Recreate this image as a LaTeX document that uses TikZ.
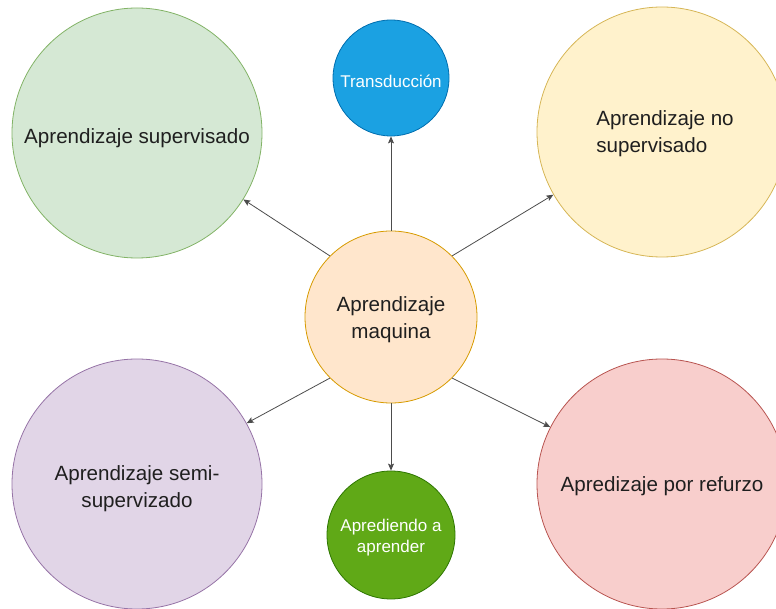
\documentclass[tikz,border=0pt]{standalone}
\usepackage{fontspec}
\setmainfont{Liberation Sans}
\usetikzlibrary{arrows.meta}

\definecolor{supfill}{HTML}{D5E8D4}\definecolor{supline}{HTML}{82B366}
\definecolor{transfill}{HTML}{1BA1E2}\definecolor{transline}{HTML}{006EAF}
\definecolor{nosupfill}{HTML}{FFF2CC}\definecolor{nosupline}{HTML}{D6B656}
\definecolor{mainfill}{HTML}{FFE6CC}\definecolor{mainline}{HTML}{D79B00}
\definecolor{semifill}{HTML}{E1D5E7}\definecolor{semiline}{HTML}{9673A6}
\definecolor{learnfill}{HTML}{60A917}\definecolor{learnline}{HTML}{2D7600}
\definecolor{reinffill}{HTML}{F8CECC}\definecolor{reinfline}{HTML}{B85450}

\begin{document}
\begin{tikzpicture}[x=1pt,y=-1pt,
    bubble/.style={circle, draw, line width=0.8pt, inner sep=0pt},
    caption/.style={align=center, inner sep=0pt, text=black!88, font=\fontsize{20.6}{27}\selectfont},
    smallcaption/.style={caption, text=white, font=\fontsize{17}{21}\selectfont},
    link/.style={-{Stealth[length=7pt,width=6pt,inset=1.5pt]}, draw=black!70, line width=0.8pt}]
    % page
    \useasboundingbox (0,0) rectangle (776,609);

    % Outer bubbles
    \node[bubble, minimum size=250pt, fill=supfill, draw=supline] (sup) at (137,133) {};
    \node[bubble, minimum size=250pt, fill=nosupfill, draw=nosupline] (nosup) at (662,132) {};
    \node[bubble, minimum size=250pt, fill=semifill, draw=semiline] (semi) at (137,484) {};
    \node[bubble, minimum size=250pt, fill=reinffill, draw=reinfline] (reinf) at (662,484) {};

    % Small bubbles
    \node[bubble, minimum size=116pt, fill=transfill, draw=transline] (trans) at (391,78) {};
    \node[bubble, minimum size=128pt, fill=learnfill, draw=learnline] (learn) at (391,535) {};

    % Centre
    \node[bubble, minimum size=172pt, fill=mainfill, draw=mainline] (main) at (391,317) {};

    % Texts
    \node[caption] (suptext) at ([yshift=-5pt]sup.center) {Aprendizaje supervisado};
    \node[caption, align=left] (nosuptext) at ([xshift=3pt,yshift=-2pt]nosup.center) {Aprendizaje no\\supervisado};
    \node[caption] (semitext) at ([yshift=-5pt]semi.center) {Aprendizaje semi-\\supervizado};
    \node[caption] (reinftext) at ([yshift=-2pt]reinf.center) {Apredizaje por refurzo};
    \node[smallcaption] (transtext) at ([yshift=-3pt]trans.center) {Transducción};
    \node[smallcaption] (learntext) at ([yshift=-3pt]learn.center) {Aprediendo a\\aprender};
    \node[caption] (maintext) at ([yshift=-3pt]main.center) {Aprendizaje\\maquina};

    % Links
    \draw[link] (main.north) -- (trans.south);
    \draw[link] (main.south) -- (learn.north);
    \draw[link] (main.135) -- (sup.-32);
    \draw[link] (main.45) -- (nosup.210);
    \draw[link] (main.225) -- (semi.29);
    \draw[link] (main.315) -- (reinf.153);
\end{tikzpicture}
\end{document}
